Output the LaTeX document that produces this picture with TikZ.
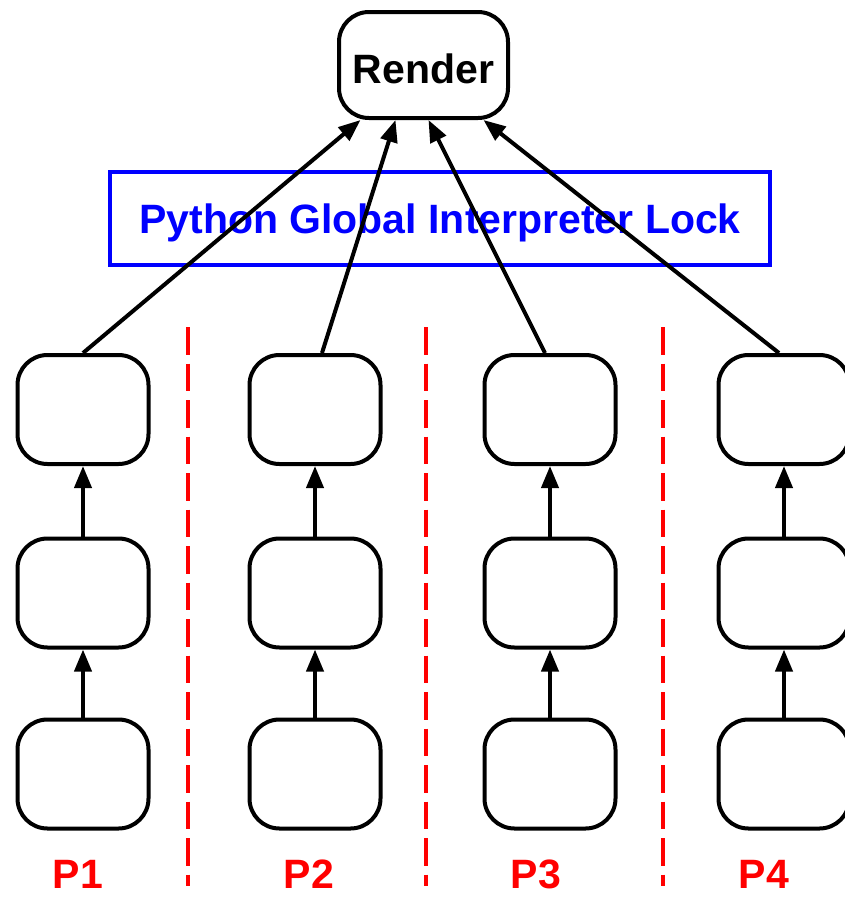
\documentclass[tikz,border=0pt]{standalone}
\usepackage{fontspec}
\setmainfont{Liberation Sans}
\usetikzlibrary{arrows.meta, positioning}

\begin{document}
\begin{tikzpicture}[
  x=1pt, y=-1pt,
  stage/.style={rectangle, rounded corners=30pt, draw, line width=4pt,
    minimum width=131pt, minimum height=109pt, inner sep=0pt},
  flow/.style={-{Triangle[length=22pt, width=17pt]}, line width=4pt},
  lock/.style={draw=blue, line width=4pt, text=blue, inner sep=0pt,
    minimum width=660pt, minimum height=93pt, text height=29pt, text depth=0pt,
    font=\fontsize{41}{48}\selectfont\bfseries},
  divider/.style={red, line width=4pt, dash pattern=on 27.5pt off 9pt},
  proc/.style={text=red, anchor=base, inner sep=0pt,
    font=\fontsize{41}{48}\selectfont\bfseries}
]
\useasboundingbox (0,0) rectangle (845,898);

\node[stage, minimum width=169pt, minimum height=106pt, text height=36pt, text depth=0pt,
  font=\fontsize{41}{48}\selectfont\bfseries] (render) at (423.5,65) {Render};
\node[lock] (gil) at (440,218.5) {Python Global Interpreter Lock};

% four independent pipelines
\foreach \c/\x/\lx in {1/83/78, 2/315/309, 3/550/536, 4/784/764} {
  \node[stage] (s\c1) at (\x,409.5) {};
  \node[stage] (s\c2) at (\x,593) {};
  \node[stage] (s\c3) at (\x,774) {};
  \draw[flow] (s\c3) -- (s\c2);
  \draw[flow] (s\c2) -- (s\c1);
  \node[proc] (p\c) at (\lx,888) {P\c};
}

% all of them funnel into the renderer
\draw[flow] (s11.north) -- ([xshift=-63pt]render.south);
\draw[flow] ([xshift=7pt]s21.north) -- ([xshift=-28pt]render.south);
\draw[flow] ([xshift=-5pt]s31.north) -- ([xshift=5pt]render.south);
\draw[flow] ([xshift=-5pt]s41.north) -- ([xshift=60pt]render.south);

\foreach \x in {188, 426, 663}
  \draw[divider] (\x,327) -- (\x,886);
\end{tikzpicture}
\end{document}
